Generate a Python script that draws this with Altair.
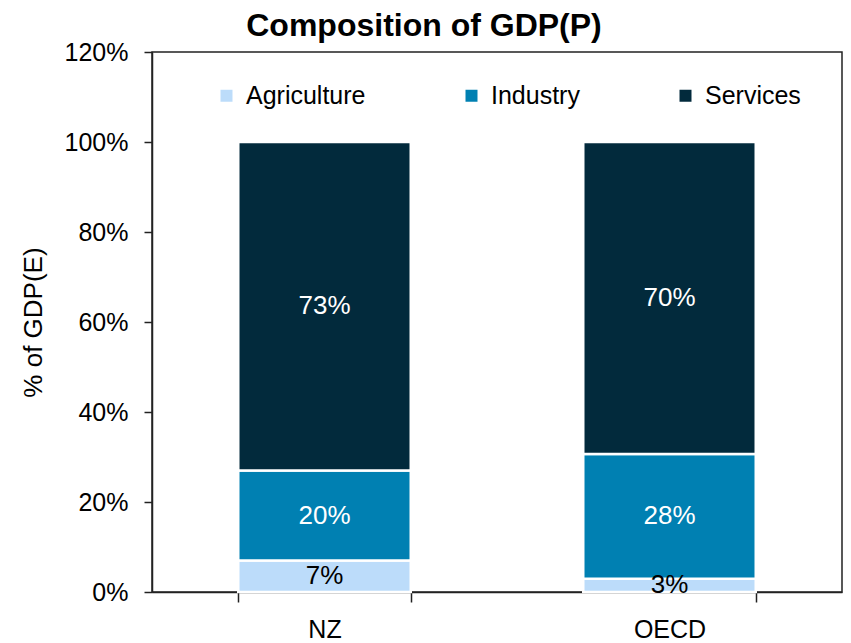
import altair as alt
import pandas as pd

regions = ["NZ", "OECD"]
sectors = ["Agriculture", "Industry", "Services"]
agriculture = [7, 3]
industry = [20, 28]
services = [73, 70]

rows = []
for i, r in enumerate(regions):
    for j, (s, v) in enumerate(zip(sectors, [agriculture[i], industry[i], services[i]])):
        rows.append({"region": r, "sector": s, "value": v, "order": j,
                     "label": f"{v}%"})
df = pd.DataFrame(rows)

colors = ["#BCDCFA", "#0080B2", "#022A3C"]
FONT = "Liberation Sans"

base = alt.Chart(df).transform_stack(
    stack="value", groupby=["region"], as_=["y0", "y1"],
    offset="normalize", sort=[alt.SortField("order", order="ascending")]
).transform_calculate(mid="(datum.y0 + datum.y1) / 2")

x = alt.X("region:N", title=None, sort=regions,
          scale=alt.Scale(paddingInner=0.5, paddingOuter=0.25),
          axis=alt.Axis(labelAngle=0, labelFontSize=25, labelFont=FONT,
                        labelColor="black", tickBand="extent", tickSize=10,
                        tickColor="#222", domainColor="#222", domainWidth=1.5,
                        tickWidth=1.5, labelPadding=15))

bars = base.mark_bar(stroke="white", strokeWidth=2.5).encode(
    x=x,
    y=alt.Y("y0:Q", title="% of GDP(E)",
            scale=alt.Scale(domain=[0, 1.2], nice=False),
            axis=alt.Axis(format=".0%", values=[0, 0.2, 0.4, 0.6, 0.8, 1.0, 1.2],
                          grid=False, labelFontSize=25, labelFont=FONT,
                          labelColor="black", tickSize=8, labelPadding=16,
                          tickColor="#222", domainColor="#222", domainWidth=1.5,
                          tickWidth=1.5, titleFontSize=26, titleFont=FONT,
                          titleFontWeight="normal", titleColor="black",
                          titlePadding=18)),
    y2="y1:Q",
    color=alt.Color("sector:N", sort=sectors,
                    scale=alt.Scale(domain=sectors, range=colors),
                    legend=alt.Legend(title=None, orient="none", direction="horizontal",
                                      legendX=62, legendY=31, symbolType="square",
                                      symbolSize=144, symbolStrokeWidth=0,
                                      labelFontSize=25, labelFont=FONT,
                                      labelColor="black", labelOffset=7,
                                      columnPadding=93)),
)

text = base.mark_text(fontSize=26, font=FONT).encode(
    x=alt.X("region:N", sort=regions),
    y=alt.Y("mid:Q"),
    text="label:N",
    color=alt.Color("sector:N", sort=sectors,
                    scale=alt.Scale(domain=sectors, range=["black", "white", "white"]),
                    legend=None),
)

chart = alt.layer(bars, text).resolve_scale(color="independent").properties(
    width=690, height=540,
    title=alt.Title("Composition of GDP(P)", fontSize=32, font=FONT,
                    fontWeight="bold", color="black", anchor="middle",
                    dx=-73, offset=-3),
    autosize=alt.AutoSizeParams(type="none"),
    padding={"left": 144, "top": 44, "right": 1, "bottom": 50},
).configure_view(stroke="#222", strokeWidth=1.5)

chart.save("out.html", embed_options={"renderer": "svg", "actions": False})
